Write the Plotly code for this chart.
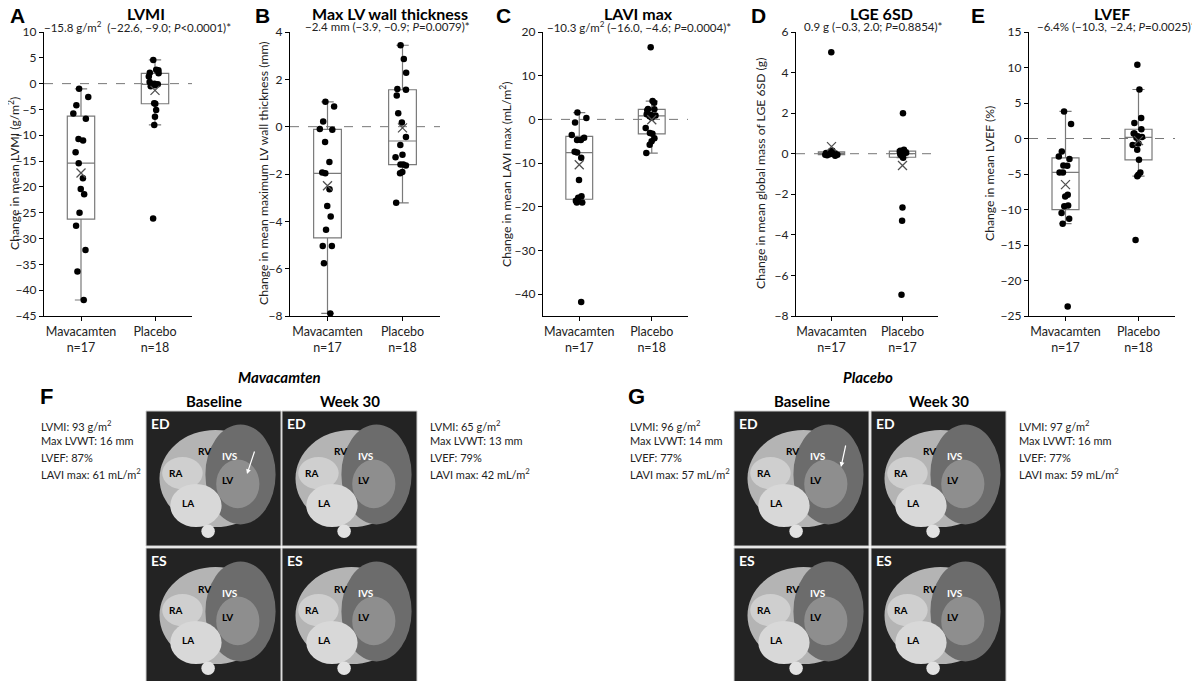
import numpy as np
import plotly.graph_objects as go

W, H = 1200, 681
OFF = 8  # the page body margin shifts the figure by 8 px

GROUPS = ["Mavacamten", "Placebo"]

# A  LVMI (g/m2)
lvmi_mava = [-1.0, -2.6, -4.2, -5.8, -6.8, -11.0, -10.7, -13.3, -15.4, -18.3,
             -20.4, -21.4, -25.0, -27.5, -32.2, -36.4, -41.9]
lvmi_plac = [4.6, 2.7, 2.6, 2.1, 2.0, 1.4, 0.3, 0.0, -0.1, -0.2, -0.3, -0.5,
             -3.8, -3.9, -5.1, -6.4, -8.0, -26.1]
lvmi_mean = [-17.3, -1.3]
lvmi_n = [17, 18]

# B  max LV wall thickness (mm)
lvwt_mava = [1.05, 0.85, 0.22, -0.1, -0.13, -0.65, -1.49, -1.94, -1.97, -2.64,
             -3.35, -3.8, -4.36, -5.04, -5.04, -5.77, -7.89]
lvwt_plac = [3.44, 2.86, 2.28, 1.59, 1.56, 1.32, 0.57, 0.18, -0.44, -0.77,
             -1.19, -1.29, -1.6, -1.6, -1.64, -1.92, -1.97, -3.22]
lvwt_mean = [-2.5, -0.05]
lvwt_n = [17, 18]

# C  LAVI max (mL/m2)
lavi_mava = [1.56, 0.34, -0.73, -3.57, -4.18, -4.7, -4.7, -7.4, -7.6, -8.77,
             -13.9, -17.57, -17.95, -18.6, -19.0, -19.0, -41.8]
lavi_plac = [16.5, 4.2, 3.8, 2.4, 2.3, 2.1, 1.2, 1.0, 0.9, 0.7, 0.4, -2.0,
             -3.1, -3.3, -4.3, -5.0, -5.8, -7.7]
lavi_mean = [-10.4, -0.1]
lavi_n = [17, 18]

# D  LGE 6SD (g)
lge_mava = [5.0, 0.15, 0.12, 0.1, 0.08, 0.05, 0.05, 0.03, 0.02, 0.0, 0.0,
            -0.02, -0.03, -0.05, -0.05, -0.08, -0.1]
lge_plac = [2.0, 0.2, 0.15, 0.15, 0.1, 0.1, 0.05, 0.05, 0.0, 0.0, -0.05,
            -0.1, -0.15, -0.2, -2.65, -3.3, -6.95]
lge_mean = [0.35, -0.58]
lge_n = [17, 17]

# E  LVEF (%)
lvef_mava = [3.82, 2.04, -1.82, -2.53, -2.9, -3.8, -3.84, -4.78, -4.78, -7.93,
             -8.17, -9.44, -9.53, -10.5, -11.3, -12.0, -23.67]
lvef_plac = [10.4, 6.9, 2.9, 2.2, 1.3, 0.7, 0.7, 0.3, 0.2, 0.1, -0.7, -0.9,
             -1.6, -3.0, -4.8, -5.1, -5.3, -14.3]
lvef_mean = [-6.5, -0.3]
lvef_n = [17, 18]

panels = [
    dict(letter="A", title="LVMI",
         sub="\u221215.8 g/m<sup>2</sup>  (\u221222.6, \u22129.0; <i>P</i>&lt;0.0001)*",
         ytitle="Change in mean LVMI (g/m<sup>2</sup>)",
         mava=lvmi_mava, plac=lvmi_plac, mean=lvmi_mean, n=lvmi_n,
         yr=[-45, 10], dt=5, dom=(44, 192), lx=8, tx=146, sx=137, ytx=14),
    dict(letter="B", title="Max LV wall thickness",
         sub="\u22122.4 mm (\u22123.9, \u22120.9; <i>P</i>=0.0079)*",
         ytitle="Change in mean maximum LV wall thickness (mm)",
         mava=lvwt_mava, plac=lvwt_plac, mean=lvwt_mean, n=lvwt_n,
         yr=[-8, 4], dt=2, dom=(290, 440), lx=262, tx=390, sx=387, ytx=263),
    dict(letter="C", title="LAVI max",
         sub="\u221210.3 g/m<sup>2</sup> (\u221216.0, \u22124.6; <i>P</i>=0.0004)*",
         ytitle="Change in mean LAVI max (mL/m<sup>2</sup>)",
         mava=lavi_mava, plac=lavi_plac, mean=lavi_mean, n=lavi_n,
         yr=[-45, 20], dt=10, dom=(543, 688), lx=503, tx=638, sx=639, ytx=506),
    dict(letter="D", title="LGE 6SD",
         sub="0.9 g (\u22120.3, 2.0; <i>P</i>=0.8854)*",
         ytitle="Change in mean global mass of LGE 6SD (g)",
         mava=lge_mava, plac=lge_plac, mean=lge_mean, n=lge_n,
         yr=[-8, 6], dt=2, dom=(796, 938), lx=758, tx=881, sx=873, ytx=760),
    dict(letter="E", title="LVEF",
         sub="\u22126.4% (\u221210.3, \u22122.4; <i>P</i>=0.0025)*",
         ytitle="Change in mean LVEF (%)",
         mava=lvef_mava, plac=lvef_plac, mean=lvef_mean, n=lvef_n,
         yr=[-25, 15], dt=5, dom=(1029, 1175), lx=978, tx=1112, sx=1116, ytx=989),
]

FONT = "Lato, Open Sans, sans-serif"
HEL = "Liberation Sans, Arial, sans-serif"


def fx(x):
    return (x - OFF) / W


def fy(y):
    return 1 - (y - OFF) / H


fig = go.Figure()
annos = []
shapes = []
ydom = [fy(316), fy(32)]

for i, p in enumerate(panels, start=1):
    xa = "x" if i == 1 else f"x{i}"
    ya = "y" if i == 1 else f"y{i}"
    xs = [GROUPS[0]] * len(p["mava"]) + [GROUPS[1]] * len(p["plac"])
    ys = p["mava"] + p["plac"]
    fig.add_trace(go.Box(
        x=xs, y=ys, xaxis=xa, yaxis=ya,
        boxpoints="all", jitter=0.6, pointpos=0, width=0.37,
        quartilemethod="exclusive", whiskerwidth=0.45,
        fillcolor="rgba(255,255,255,0)",
        line=dict(color="#7a7a7a", width=1.2),
        marker=dict(color="black", size=6.5, line=dict(width=0)),
        showlegend=False,
    ))
    fig.add_trace(go.Scatter(
        x=GROUPS, y=p["mean"], xaxis=xa, yaxis=ya, mode="markers",
        marker=dict(symbol="x-thin", size=9, line=dict(width=1.3, color="#505050")),
        showlegend=False,
    ))
    key = "" if i == 1 else str(i)
    fig.layout["xaxis" + key] = dict(
        domain=[fx(p["dom"][0]), fx(p["dom"][1])], anchor=ya,
        type="category", categoryorder="array", categoryarray=GROUPS,
        range=[-0.5, 1.5], showline=True, linecolor="black", linewidth=1.3,
        ticks="outside", ticklen=4, tickcolor="black",
        tickvals=GROUPS, ticktext=[f"{g}<br>n={n}" for g, n in zip(GROUPS, p["n"])],
        tickfont=dict(family=FONT, size=12.5, color="#222"),
        showgrid=False, zeroline=False, automargin=False,
    )
    fig.layout["yaxis" + key] = dict(
        domain=ydom, anchor=xa, range=p["yr"], dtick=p["dt"], tick0=0,
        showline=True, linecolor="black", linewidth=1.3,
        ticks="outside", ticklen=4, tickcolor="black",
        tickfont=dict(family=FONT, size=12, color="#222"),
        showgrid=False, zeroline=False, automargin=False,
    )
    shapes.append(dict(type="line", xref=f"{xa} domain", yref=ya,
                       x0=0, x1=1, y0=0, y1=0, layer="below",
                       line=dict(color="#777", width=1, dash="dash")))
    if i == 1:
        annos.append(dict(x=0, y=fy(16), xanchor="left", text=f"<b>{p['letter']}</b>",
                          font=dict(family=HEL, size=21, color="black")))
    else:
        annos.append(dict(x=fx(p["lx"]), y=fy(16), text=f"<b>{p['letter']}</b>",
                          font=dict(family=HEL, size=21, color="black")))
    annos.append(dict(x=fx(p["tx"]), y=fy(14), text=f"<b>{p['title']}</b>",
                      font=dict(family=FONT, size=16, color="black")))
    annos.append(dict(x=fx(p["sx"]), y=fy(27), text=p["sub"],
                      font=dict(family=FONT, size=11.5, color="#222")))
    annos.append(dict(x=fx(p["ytx"]), y=fy(174), text=p["ytitle"], textangle=-90,
                      font=dict(family=FONT, size=12.2, color="#222")))

# --- cardiac MR panels (F, G): drawn as stylised placeholders ---
stats_F = [["LVMI: 93 g/m<sup>2</sup>", "Max LVWT: 16 mm", "LVEF: 87%", "LAVI max: 61 mL/m<sup>2</sup>"],
           ["LVMI: 65 g/m<sup>2</sup>", "Max LVWT: 13 mm", "LVEF: 79%", "LAVI max: 42 mL/m<sup>2</sup>"]]
stats_G = [["LVMI: 96 g/m<sup>2</sup>", "Max LVWT: 14 mm", "LVEF: 77%", "LAVI max: 57 mL/m<sup>2</sup>"],
           ["LVMI: 97 g/m<sup>2</sup>", "Max LVWT: 16 mm", "LVEF: 77%", "LAVI max: 59 mL/m<sup>2</sup>"]]

blocks = [
    dict(letter="F", group="Mavacamten", stats=stats_F, cols=[146, 282],
         lx=46, gx=279, sl=39, sr=428, arrow=((247, 474), (8, -24))),
    dict(letter="G", group="Placebo", stats=stats_G, cols=[734, 871],
         lx=636, gx=868, sl=628, sr=1017, arrow=((841, 467), (5, -23))),
]
rows = [(411, 546), (548, 689)]
IW = 135
chambers = [("RV", 0.43, 0.30, "black"), ("IVS", 0.62, 0.33, "white"),
            ("RA", 0.22, 0.46, "black"), ("LV", 0.60, 0.51, "black"),
            ("LA", 0.31, 0.68, "black")]
blobs = [((0.10, 0.14, 0.93, 0.86), "#b4b4b4"),
         ((0.44, 0.10, 0.96, 0.84), "#6c6c6c"),
         ((0.52, 0.36, 0.84, 0.72), "#8e8e8e"),
         ((0.12, 0.34, 0.42, 0.58), "#cfcfcf"),
         ((0.18, 0.54, 0.56, 0.86), "#d8d8d8"),
         ((0.41, 0.84, 0.51, 0.94), "#e2e2e2")]

for b in blocks:
    annos.append(dict(x=fx(b["lx"]), y=fy(396), text=f"<b>{b['letter']}</b>",
                      font=dict(family=HEL, size=22, color="black")))
    annos.append(dict(x=fx(b["gx"]), y=fy(377), text=f"<b><i>{b['group']}</i></b>",
                      font=dict(family=FONT, size=15, color="black")))
    for c, lab in zip(b["cols"], ["Baseline", "Week 30"]):
        annos.append(dict(x=fx(c + IW / 2), y=fy(401), text=f"<b>{lab}</b>",
                          font=dict(family=FONT, size=15, color="black")))
    for sx, st in zip([b["sl"], b["sr"]], b["stats"]):
        for k, line in enumerate(st):
            annos.append(dict(x=fx(sx), y=fy(425 + 16 * k), xanchor="left",
                              text=line, font=dict(family=FONT, size=11, color="#222")))
    for r, (y0, y1) in enumerate(rows):
        h = 135
        for c in b["cols"]:
            shapes.append(dict(type="rect", xref="paper", yref="paper",
                               x0=fx(c), x1=fx(c + IW), y0=fy(y1), y1=fy(y0),
                               fillcolor="#232323", line=dict(color="#d0d0d0", width=1)))
            for (a0, b0, a1, b1), col in blobs:
                shapes.append(dict(type="circle", xref="paper", yref="paper",
                                   x0=fx(c + a0 * IW), x1=fx(c + a1 * IW),
                                   y0=fy(y0 + b1 * h), y1=fy(y0 + b0 * h),
                                   fillcolor=col, line=dict(width=0)))
            for lab, rx, ry, col in chambers:
                annos.append(dict(x=fx(c + rx * IW), y=fy(y0 + ry * h), text=f"<b>{lab}</b>",
                                  font=dict(family=FONT, size=10, color=col)))
            annos.append(dict(x=fx(c + 3), y=fy(y0 + 2), xanchor="left", yanchor="top",
                              text="<b>ED</b>" if r == 0 else "<b>ES</b>",
                              font=dict(family=FONT, size=14, color="white")))
    (hx, hy), (ax, ay) = b["arrow"]
    annos.append(dict(x=fx(hx), y=fy(hy), text="", showarrow=True, ax=ax, ay=ay,
                      arrowcolor="white", arrowwidth=1.2, arrowhead=2, arrowsize=0.8))

for a in annos:
    a.setdefault("xref", "paper")
    a.setdefault("yref", "paper")
    a.setdefault("xanchor", "center")
    a.setdefault("yanchor", "middle")
    a.setdefault("showarrow", False)

fig.update_layout(
    width=W, height=H, margin=dict(l=0, r=0, t=0, b=0, pad=0),
    paper_bgcolor="white", plot_bgcolor="white",
    annotations=annos, shapes=shapes, boxmode="overlay",
    font=dict(family=FONT),
)

fig.write_html("out.html")
